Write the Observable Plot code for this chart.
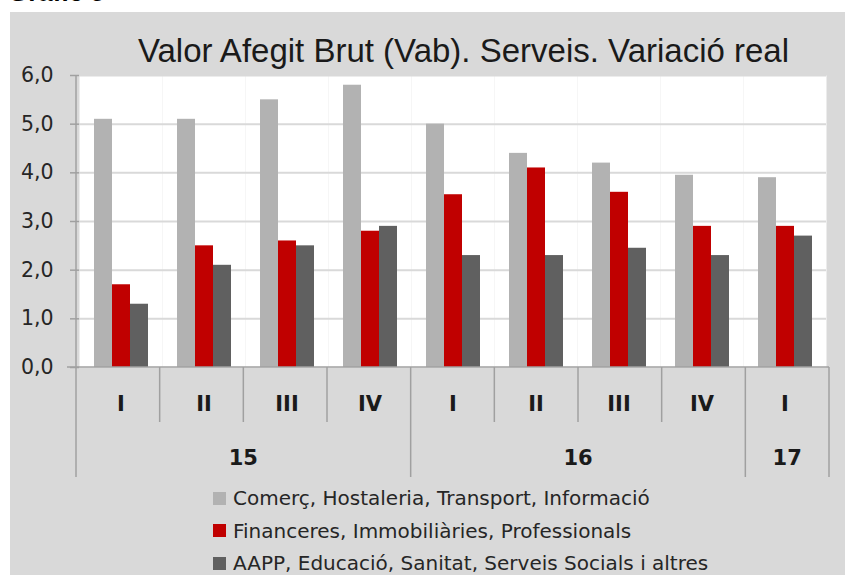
<!DOCTYPE html>
<html>
<head>
<meta charset="utf-8">
<script src="https://cdn.jsdelivr.net/npm/d3@7"></script>
<script src="https://cdn.jsdelivr.net/npm/@observablehq/plot@0.6"></script>
<style>
  body { margin: 0; background: #ffffff; }
  #wrap { position: relative; width: 845px; height: 575px; overflow: hidden; font-family: "DejaVu Sans", sans-serif; }
  #panel { position: absolute; left: 10px; top: 12px; width: 835px; height: 563px; background: #d9d9d9; }
  #fig { position: absolute; left: 8px; top: -21px; font: bold 26px "Liberation Sans", Arial, sans-serif; color: #000; line-height: 26px; white-space: nowrap; }
  #title { position: absolute; left: 0; width: 927px; top: 34px; text-align: center; font: 33px "Liberation Sans", Arial, sans-serif; line-height: 33px; color: #1a1a1a; white-space: nowrap; }
  #chart { position: absolute; left: 10px; top: 60px; }
  #legend { position: absolute; left: 213px; top: 482px; }
  .row { height: 32.5px; display: flex; align-items: center; font-size: 20px; color: #262626; white-space: nowrap; }
  .sw { width: 13px; height: 13px; margin-right: 7px; flex: none; }
</style>
</head>
<body>
<div id="wrap">
  <div id="panel"></div>
  <div id="fig">Gràfic 5</div>
  <div id="title">Valor Afegit Brut (Vab). Serveis. Variació real</div>
  <div id="chart"></div>
  <div id="legend"></div>
</div>
<script>
// ---- data ----
const periods = ["15-I", "15-II", "15-III", "15-IV", "16-I", "16-II", "16-III", "16-IV", "17-I"];
const quarterLabels = ["I", "II", "III", "IV", "I", "II", "III", "IV", "I"];
const years = ["15", "16", "17"];
const yearOfPeriod = ["15", "15", "15", "15", "16", "16", "16", "16", "17"];
const series = [
  "Comerç, Hostaleria, Transport, Informació",
  "Financeres, Immobiliàries, Professionals",
  "AAPP, Educació, Sanitat, Serveis Socials i altres"
];
const comerc     = [5.1, 5.1, 5.5, 5.8, 5.0, 4.4, 4.2, 3.95, 3.9];
const financeres = [1.7, 2.5, 2.6, 2.8, 3.55, 4.1, 3.6, 2.9, 2.9];
const aapp       = [1.3, 2.1, 2.5, 2.9, 2.3, 2.3, 2.45, 2.3, 2.7];
const yTicks = [0, 1, 2, 3, 4, 5, 6];
const colors = ["#b2b2b2", "#c00000", "#606060"];

const valuesBySeries = [comerc, financeres, aapp];
const rows = periods.flatMap((p, i) => series.map((s, j) => ({period: p, series: s, value: valuesBySeries[j][i]})));

const fmt = d => d.toFixed(1).replace(".", ",");
const lineColor = "#a0a0a0";

const plot = Plot.plot({
  width: 835,
  height: 419,
  marginLeft: 66,
  marginRight: 16,
  marginTop: 15,
  marginBottom: 112,
  style: {background: "transparent", fontFamily: "DejaVu Sans, sans-serif", fontSize: "20px", color: "#262626", overflow: "visible"},
  fx: {domain: periods, padding: 0, label: null},
  x: {domain: series, paddingInner: 0, paddingOuter: 0.76, axis: null},
  y: {domain: [0, 6], label: null},
  color: {domain: series, range: colors},
  marks: [
    Plot.frame({fill: "white", stroke: "none"}),
    Plot.gridY(yTicks.slice(1), {stroke: "#d9d9d9", strokeOpacity: 1, strokeWidth: 2}),
    Plot.barY(rows, {fx: "period", x: "series", y: "value", fill: "series"}),
    Plot.axisY(yTicks, {tickSize: 9, tickPadding: 17, tickFormat: fmt, stroke: lineColor, strokeWidth: 1.5, fill: "#262626", fontSize: 20.5}),
    Plot.axisFx({anchor: "bottom", tickSize: 0, tickPadding: 29, tickFormat: (d) => quarterLabels[periods.indexOf(d)], fontWeight: "bold", fontSize: 21, fill: "#1a1a1a", label: null})
  ]
});
document.getElementById("chart").appendChild(plot);

// ---- category table lines & year labels, positioned from Plot's scales ----
const fxS = plot.scale("fx");
const yS = plot.scale("y");
const band = d3.scaleBand().domain(fxS.domain).range(fxS.range).padding(0);
const bw = band.bandwidth();
const yLin = d3.scaleLinear().domain(yS.domain).range(yS.range);
const y0 = yLin(0);
const yTop = yLin(6);
const svg = d3.select(plot);
const g = svg.append("g").attr("stroke", lineColor).attr("stroke-width", 1.5);
const xLeft = band(periods[0]);
const xRight = band(periods[periods.length - 1]) + bw;
// left axis line
g.append("line").attr("x1", xLeft).attr("x2", xLeft).attr("y1", yTop).attr("y2", y0);
// baseline
g.append("line").attr("x1", xLeft - 9).attr("x2", xRight).attr("y1", y0).attr("y2", y0);
// separators
const boundaries = periods.map((p, i) => ({x: band(p), yearStart: i === 0 || yearOfPeriod[i] !== yearOfPeriod[i - 1]}));
boundaries.push({x: xRight, yearStart: true});
boundaries.forEach(b => {
  g.append("line").attr("x1", b.x).attr("x2", b.x).attr("y1", y0).attr("y2", y0 + (b.yearStart ? 110 : 55));
});
// year labels
years.forEach(yr => {
  const ps = periods.filter((p, i) => yearOfPeriod[i] === yr);
  const cx = (band(ps[0]) + band(ps[ps.length - 1]) + bw) / 2;
  svg.append("text").attr("x", cx).attr("y", y0 + 98).attr("text-anchor", "middle")
    .attr("font-weight", "bold").attr("font-size", 21).attr("fill", "#1a1a1a").text(yr);
});

// ---- legend ----
const legend = document.getElementById("legend");
series.forEach((s, i) => {
  const r = document.createElement("div");
  r.className = "row";
  r.innerHTML = `<span class="sw" style="background:${colors[i]}"></span><span>${s}</span>`;
  legend.appendChild(r);
});
</script>
</body>
</html>
